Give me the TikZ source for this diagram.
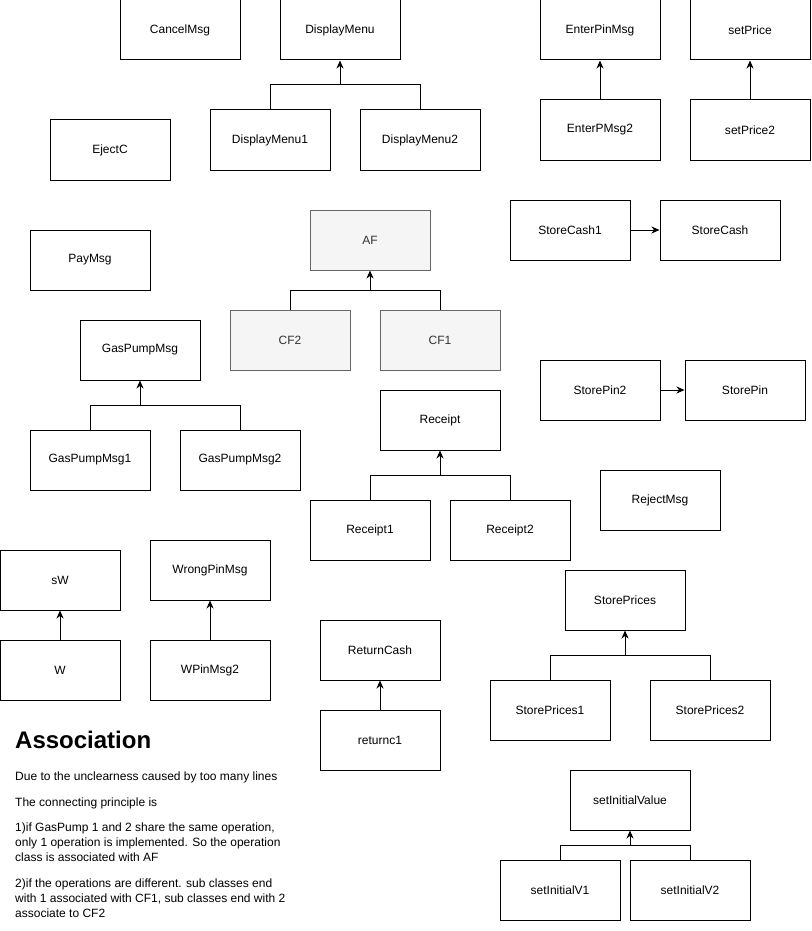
\documentclass[tikz,border=0pt]{standalone}
\usepackage{fontspec}
\setmainfont{Liberation Sans}
\usetikzlibrary{arrows.meta, calc}
\definecolor{abfill}{HTML}{F5F5F5}
\definecolor{abdraw}{HTML}{666666}
\definecolor{abtext}{HTML}{333333}

\begin{document}
\begin{tikzpicture}[
  x=1pt, y=-1pt,
  cls/.style={draw=black, line width=1pt, minimum width=120pt, minimum height=60pt,
    inner sep=0pt, font=\fontsize{12}{14}\selectfont},
  abst/.style={cls, draw=abdraw, fill=abfill, text=abtext},
  tree/.style={black, line width=1pt},
  inh/.style={-{Stealth[length=8pt, width=7pt, inset=2.5pt]}, black, line width=1pt},
  note/.style={anchor=north west, align=left, inner sep=0pt, font=\fontsize{12}{15}\selectfont},
]
\useasboundingbox (0,0) rectangle (811,931);

% ---- classes, placed by their centres ----
\node[cls] (cancel) at (180,30)  {CancelMsg};
\node[cls] (dm)     at (340,30)  {DisplayMenu};
\node[cls] (epm)    at (600,30)  {EnterPinMsg};
\node[cls] (price)  at (750,30)  {setPrice};
\node[cls] (eject)  at (110,150) {EjectC};
\node[cls] (dm1)    at (270,140) {DisplayMenu1};
\node[cls] (dm2)    at (420,140) {DisplayMenu2};
\node[cls] (epm2)   at (600,130) {EnterPMsg2};
\node[cls] (price2) at (750,130) {setPrice2};
\node[abst] (af)    at (370,240) {AF};
\node[cls] (pay)    at (90,260)  {PayMsg};
\node[cls] (sc1)    at (570,230) {StoreCash1};
\node[cls] (sc)     at (720,230) {StoreCash};
\node[abst] (cf2)   at (290,340) {CF2};
\node[abst] (cf1)   at (440,340) {CF1};
\node[cls] (gp)     at (140,350) {GasPumpMsg};
\node[cls] (spin2)  at (600,390) {StorePin2};
\node[cls] (spin)   at (745,390) {StorePin};
\node[cls] (rc)     at (440,420) {Receipt};
\node[cls] (gp1)    at (90,460)  {GasPumpMsg1};
\node[cls] (gp2)    at (240,460) {GasPumpMsg2};
\node[cls] (reject) at (660,500) {RejectMsg};
\node[cls] (rc1)    at (370,530) {Receipt1};
\node[cls] (rc2)    at (510,530) {Receipt2};
\node[cls] (sw)     at (60,580)  {sW};
\node[cls] (wpin)   at (210,570) {WrongPinMsg};
\node[cls] (sp)     at (625,600) {StorePrices};
\node[cls] (w)      at (60,670)  {W};
\node[cls] (wpin2)  at (210,670) {WPinMsg2};
\node[cls] (ret)    at (380,650) {ReturnCash};
\node[cls] (sp1)    at (550,710) {StorePrices1};
\node[cls] (sp2)    at (710,710) {StorePrices2};
\node[cls] (ret1)   at (380,740) {returnc1};
\node[cls] (siv)    at (630,800) {setInitialValue};
\node[cls] (siv1)   at (560,890) {setInitialV1};
\node[cls] (siv2)   at (690,890) {setInitialV2};

% ---- two subclasses joined under one parent ----
\foreach \p/\a/\b in {dm/dm1/dm2, af/cf2/cf1, gp/gp1/gp2, rc/rc1/rc2, sp/sp1/sp2, siv/siv1/siv2} {
  \coordinate (j) at ($(\p.south)!0.5!(\a.north)$);
  \draw[tree] (\a.north) |- (j -| \b.north) -- (\b.north);
  \draw[inh] (j -| \p.south) -- (\p.south);
}

% ---- single links ----
\draw[inh] (epm2) -- (epm);
\draw[inh] (price2) -- (price);
\draw[inh] (w) -- (sw);
\draw[inh] (wpin2) -- (wpin);
\draw[inh] (ret1) -- (ret);
\draw[inh] (sc1) -- (sc);
\draw[inh] (spin2) -- (spin);

% ---- note ----
\node[anchor=base west, inner sep=0pt, font=\fontsize{24}{28}\selectfont\bfseries] (title) at (15,748) {Association};
\node[note] (n1) at (15,772) {Due to the unclearness caused by too many lines};
\node[note] (n2) at (15,798) {The connecting principle is};
\node[note] (n3) at (15,823) {1)if GasPump 1 and 2 share the same operation,\\only 1 operation is implemented. So the operation\\class is associated with AF};
\node[note] (n4) at (15,879) {2)if the operations are different. sub classes end\\with 1 associated with CF1, sub classes end with 2\\associate to CF2};

\end{tikzpicture}
\end{document}
